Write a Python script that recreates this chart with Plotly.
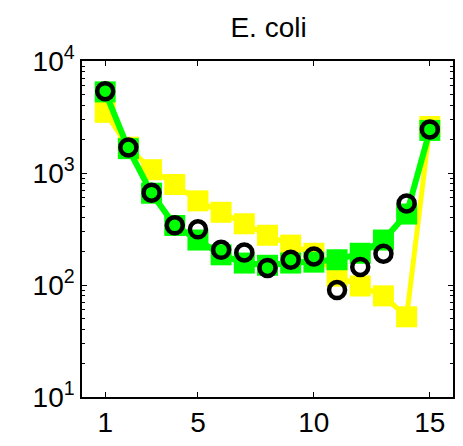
import plotly.graph_objects as go

x = list(range(1, 16))
yellow = [3480, 1700, 1070, 790, 564, 446, 352, 278, 227, 192, 120, 98, 80, 52, 2600]
green = [5300, 1650, 660, 340, 252, 186, 157, 150, 157, 160, 168, 192, 252, 430, 2400]
black = [5380, 1690, 668, 341, 314, 206, 195, 142, 168, 180, 90, 145, 190, 535, 2450]

xticks = [1, 5, 10, 15]
yticks = [10, 100, 1000, 10000]
yticktext = ["10<sup>1</sup>", "10<sup>2</sup>", "10<sup>3</sup>", "10<sup>4</sup>"]
yminor = [m * 10 ** k for k in range(1, 4) for m in range(2, 10)]

fig = go.Figure()
fig.add_trace(go.Scatter(x=x, y=yellow, mode="lines+markers",
                         line=dict(color="#FFFF00", width=5),
                         marker=dict(symbol="square", size=21, color="#FFFF00"),
                         showlegend=False))
fig.add_trace(go.Scatter(x=x, y=green, mode="lines+markers",
                         line=dict(color="#00FF00", width=6),
                         marker=dict(symbol="square", size=21, color="#00FF00"),
                         showlegend=False))
fig.add_trace(go.Scatter(x=x, y=black, mode="markers",
                         marker=dict(symbol="circle-open", size=16, color="black",
                                     line=dict(width=4.5, color="black")),
                         showlegend=False))
# invisible helper trace so the right-hand mirror axis (with minor ticks) is drawn
fig.add_trace(go.Scatter(x=x, y=black, mode="markers", yaxis="y2",
                         marker=dict(size=1, opacity=0), hoverinfo="skip",
                         showlegend=False))

font = "Liberation Sans, Arial, sans-serif"
fig.update_layout(
    width=463, height=446,
    margin=dict(l=82, r=8, t=61, b=43),
    paper_bgcolor="white", plot_bgcolor="white",
    title=dict(text="E. coli", x=0.58, xanchor="center", y=0.94, yanchor="middle",
               font=dict(family=font, size=28, color="black")),
    font=dict(family=font, size=28, color="black"),
)
fig.update_xaxes(range=[0, 16], tickvals=xticks, ticks="inside", ticklen=5,
                 showline=True, linecolor="black", linewidth=1.5, mirror="ticks",
                 showgrid=False, zeroline=False, tickcolor="black",
                 tickfont=dict(family=font, size=28, color="black"))
fig.update_layout(
    yaxis=dict(type="log", range=[1, 4], tickvals=yticks, ticktext=yticktext,
               ticks="inside", ticklen=5, tickcolor="black",
               minor=dict(tickvals=yminor, ticks="inside", ticklen=3, tickcolor="black"),
               showline=True, linecolor="black", linewidth=1.5, mirror=True,
               showgrid=False, zeroline=False,
               tickfont=dict(family=font, size=28, color="black")),
    yaxis2=dict(type="log", range=[1, 4], tickvals=yticks, overlaying="y", side="right",
                ticks="inside", ticklen=5, tickcolor="black", showticklabels=False,
                minor=dict(tickvals=yminor, ticks="inside", ticklen=3, tickcolor="black"),
                showline=True, linecolor="black", linewidth=1.5,
                showgrid=False, zeroline=False),
)

fig.write_html("out.html")
